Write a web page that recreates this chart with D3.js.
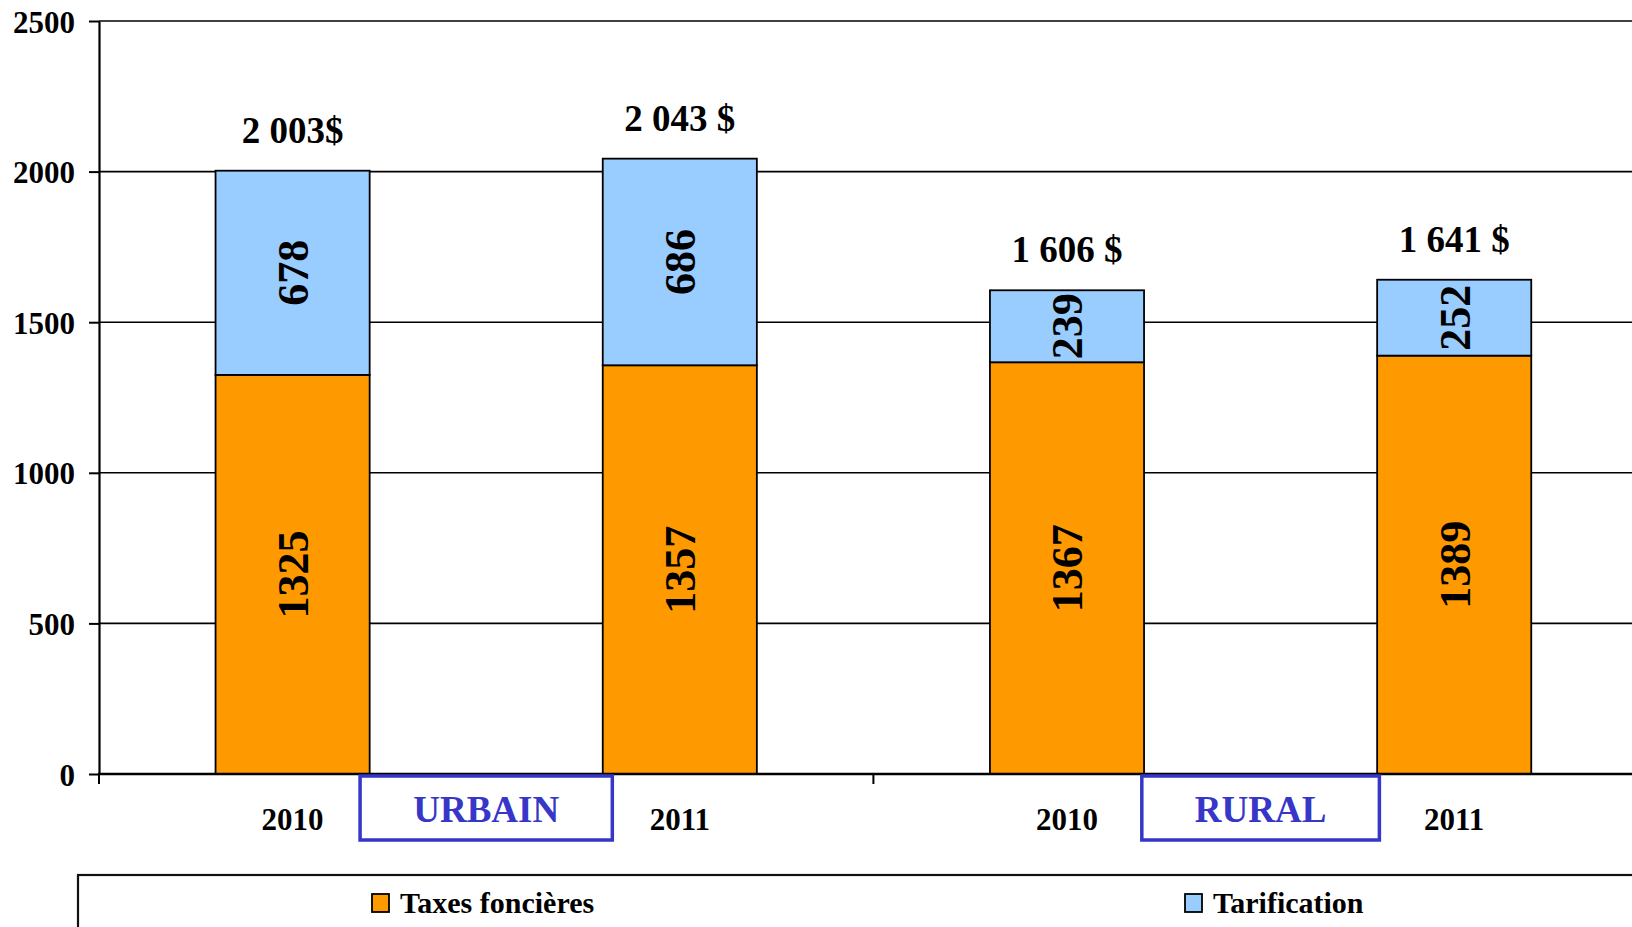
<!DOCTYPE html>
<html lang="fr">
<head>
    <meta charset="UTF-8">
    <title>Taxes foncières et tarification - urbain / rural</title>
    <script src="https://d3js.org/d3.v7.min.js"></script>
    <style>
        body {
            margin: 0;
            background: #fff;
            overflow: hidden;
        }
        svg text {
            font-family: "Liberation Serif", "Times New Roman", serif;
            font-weight: bold;
        }
    </style>
</head>
<body>
    <div id="chart"></div>

    <script>
        // Data
        const groups = ["URBAIN", "URBAIN", "RURAL", "RURAL"];
        const years = ["2010", "2011", "2010", "2011"];
        const taxes = [1325, 1357, 1367, 1389];
        const tarification = [678, 686, 239, 252];
        const totalLabels = ["2 003$", "2 043 $", "1 606 $", "1 641 $"];
        const seriesNames = ["Taxes foncières", "Tarification"];
        const yTicks = [0, 500, 1000, 1500, 2000, 2500];

        const STYLES = {
            orange: "#ff9900",
            blue: "#99ccff",
            groupBlue: "#3636c8",
            width: 1632,
            height: 927,
            margin: { top: 21, left: 99, bottom: 153 }
        };

        const keys = groups.map((g, i) => g + "-" + years[i]);
        const step = 387.2;
        const plotBottom = STYLES.height - STYLES.margin.bottom;

        const svg = d3.select("#chart")
            .append("svg")
            .attr("width", STYLES.width)
            .attr("height", STYLES.height);

        const x = d3.scaleBand()
            .domain(keys)
            .range([STYLES.margin.left, STYLES.margin.left + step * keys.length])
            .paddingInner(0.602)
            .paddingOuter(0.301);

        const y = d3.scaleLinear()
            .domain([0, 2500])
            .range([plotBottom, STYLES.margin.top]);

        // horizontal grid lines
        svg.append("g")
            .selectAll("line")
            .data(yTicks.filter(d => d > 0))
            .enter().append("line")
            .attr("x1", STYLES.margin.left)
            .attr("x2", STYLES.width)
            .attr("y1", d => y(d))
            .attr("y2", d => y(d))
            .attr("stroke", "#000")
            .attr("stroke-width", 1.6);

        // y axis
        const yAxis = svg.append("g")
            .attr("transform", `translate(${STYLES.margin.left},0)`)
            .call(d3.axisLeft(y)
                .tickValues(yTicks)
                .tickFormat(d3.format("d"))
                .tickSize(10)
                .tickPadding(14)
                .tickSizeOuter(0));
        yAxis.select(".domain").attr("stroke", "#000").attr("stroke-width", 2.2);
        yAxis.selectAll(".tick line").attr("stroke", "#000").attr("stroke-width", 2);
        yAxis.selectAll(".tick text")
            .attr("fill", "#000")
            .style("font-size", "31px")
            .attr("dy", "0.36em");

        // stacked bars
        const bars = svg.append("g");
        bars.selectAll(".taxes")
            .data(taxes)
            .enter().append("rect")
            .attr("class", "taxes")
            .attr("x", (d, i) => x(keys[i]))
            .attr("width", x.bandwidth())
            .attr("y", d => y(d))
            .attr("height", d => y(0) - y(d))
            .attr("fill", STYLES.orange)
            .attr("stroke", "#000")
            .attr("stroke-width", 1.8);

        bars.selectAll(".tarif")
            .data(tarification)
            .enter().append("rect")
            .attr("class", "tarif")
            .attr("x", (d, i) => x(keys[i]))
            .attr("width", x.bandwidth())
            .attr("y", (d, i) => y(taxes[i] + d))
            .attr("height", (d, i) => y(taxes[i]) - y(taxes[i] + d))
            .attr("fill", STYLES.blue)
            .attr("stroke", "#000")
            .attr("stroke-width", 1.8);

        // rotated segment labels
        function segmentLabels(values, base) {
            svg.append("g")
                .selectAll("text")
                .data(values)
                .enter().append("text")
                .attr("transform", (d, i) => {
                    const cx = x(keys[i]) + x.bandwidth() / 2;
                    const cy = y(base[i] + d / 2);
                    return `translate(${cx},${cy}) rotate(-90)`;
                })
                .attr("text-anchor", "middle")
                .attr("dy", "0.35em")
                .style("font-size", "44px")
                .text(d => d);
        }
        segmentLabels(taxes, [0, 0, 0, 0]);
        segmentLabels(tarification, taxes);

        // totals above bars
        svg.append("g")
            .selectAll("text")
            .data(totalLabels)
            .enter().append("text")
            .attr("x", (d, i) => x(keys[i]) + x.bandwidth() / 2)
            .attr("y", (d, i) => y(taxes[i] + tarification[i]) - 28)
            .attr("text-anchor", "middle")
            .style("font-size", "37px")
            .text(d => d);

        // x axis baseline and category ticks
        svg.append("line")
            .attr("x1", STYLES.margin.left - 1)
            .attr("x2", STYLES.width)
            .attr("y1", y(0))
            .attr("y2", y(0))
            .attr("stroke", "#000")
            .attr("stroke-width", 2.6);

        svg.append("g")
            .selectAll("line")
            .data(keys)
            .enter().append("line")
            .attr("x1", d => x(d) + x.bandwidth() / 2 - x.step() / 2)
            .attr("x2", d => x(d) + x.bandwidth() / 2 - x.step() / 2)
            .attr("y1", y(0))
            .attr("y2", y(0) + 10)
            .attr("stroke", "#000")
            .attr("stroke-width", 2);

        // year labels
        svg.append("g")
            .selectAll("text")
            .data(years)
            .enter().append("text")
            .attr("x", (d, i) => x(keys[i]) + x.bandwidth() / 2)
            .attr("y", y(0) + 56)
            .attr("text-anchor", "middle")
            .style("font-size", "31px")
            .text(d => d);

        // group boxes (URBAIN / RURAL)
        const groupNames = Array.from(new Set(groups));
        groupNames.forEach(name => {
            const idx = groups.map((g, i) => g === name ? i : -1).filter(i => i >= 0);
            const cx = d3.mean(idx, i => x(keys[i]) + x.bandwidth() / 2);
            const g = svg.append("g");
            const label = g.append("text")
                .attr("x", cx)
                .attr("y", y(0) + 48)
                .attr("text-anchor", "middle")
                .attr("fill", STYLES.groupBlue)
                .style("font-size", "37px")
                .text(name);
            const w = label.node().getBBox().width + 106;
            g.insert("rect", "text")
                .attr("x", cx - w / 2)
                .attr("y", y(0) + 2)
                .attr("width", w)
                .attr("height", 64)
                .attr("fill", "#fff")
                .attr("stroke", STYLES.groupBlue)
                .attr("stroke-width", 3.5);
        });

        // legend
        const legendTop = 875;
        svg.append("rect")
            .attr("x", 78)
            .attr("y", legendTop)
            .attr("width", STYLES.width)
            .attr("height", 200)
            .attr("fill", "#fff")
            .attr("stroke", "#111")
            .attr("stroke-width", 2.2);

        const legendColors = [STYLES.orange, STYLES.blue];
        const legendX = [372, 1185];
        const legend = svg.append("g")
            .selectAll("g")
            .data(seriesNames)
            .enter().append("g")
            .attr("transform", (d, i) => `translate(${legendX[i]},${legendTop + 19})`);

        legend.append("rect")
            .attr("width", 17)
            .attr("height", 18)
            .attr("fill", (d, i) => legendColors[i])
            .attr("stroke", "#000")
            .attr("stroke-width", 1.8);

        legend.append("text")
            .attr("x", 28)
            .attr("y", 19)
            .style("font-size", "30px")
            .text(d => d);
    </script>
</body>
</html>
